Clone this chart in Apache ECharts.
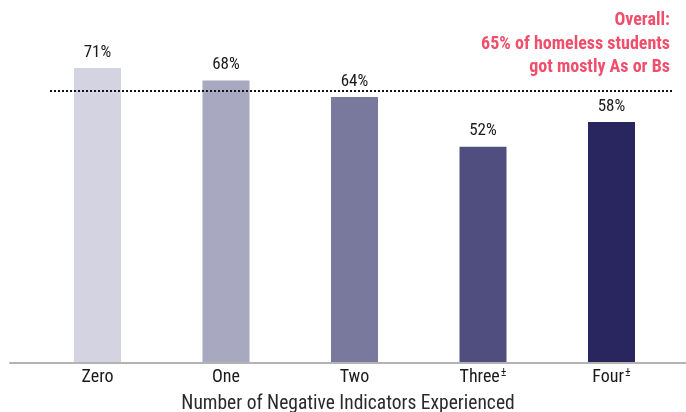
<!DOCTYPE html>
<html>
<head>
<meta charset="utf-8">
<script src="https://cdn.jsdelivr.net/npm/echarts@6/dist/echarts.min.js"></script>
<style>
  html, body { margin: 0; padding: 0; background: #fff; }
  #chart { width: 686px; height: 412px; }
</style>
</head>
<body>
<div id="chart"></div>
<script>
// data
const categories = ["Zero", "One", "Two", "Three", "Four"];
const footnoted = [false, false, false, true, true];
const values = [71, 68, 64, 52, 58];
const barColors = ["#d3d3e1", "#a8a8c1", "#79799d", "#4f4e7f", "#29265f"];
const overall = 65;
const axisTitle = "Number of Negative Indicators Experienced";

const FONT = "'Liberation Sans Narrow', 'Roboto Condensed', Roboto, sans-serif";

const chart = echarts.init(document.getElementById("chart"));

// same vertical scale for every grid
const vTop = -52;
const vBottom = 50;

chart.setOption({
  animation: false,
  grid: [
    // bars
    { left: 33.25, width: 642.5, top: vTop, bottom: vBottom, containLabel: false, outerBoundsMode: "none" },
    // baseline + axis title
    { left: 10, right: 0, top: vTop + 1, bottom: vBottom - 1, containLabel: false, outerBoundsMode: "none" },
    // overall reference line
    { left: 50, right: 14, top: vTop - 2, bottom: vBottom + 2, containLabel: false, outerBoundsMode: "none" },
  ],
  xAxis: [
    {
      gridIndex: 0,
      type: "category",
      data: categories.map((c, i) => (footnoted[i] ? "{a|" + c + "}{s|±}" : "{a|" + c + "}")),
      axisLine: { show: false },
      axisTick: { show: false },
      axisLabel: {
        margin: 5,
        rich: {
          a: { fontFamily: FONT, fontSize: 18, lineHeight: 20, color: "#1a1a1a" },
          s: { fontFamily: FONT, fontSize: 12, lineHeight: 20, verticalAlign: "top", color: "#1a1a1a", padding: [0, 0, 0, 1] },
        },
      },
    },
    {
      gridIndex: 1,
      type: "value",
      min: 0,
      max: 1,
      axisLine: { show: true, lineStyle: { color: "#b3b3b3", width: 2 } },
      axisTick: { show: false },
      axisLabel: { show: false },
      splitLine: { show: false },
      name: axisTitle,
      nameLocation: "middle",
      nameGap: 31,
      nameTextStyle: { fontFamily: FONT, fontSize: 19.5, color: "#2a2a2a" },
    },
    { gridIndex: 2, type: "value", min: 0, max: 1, show: false },
  ],
  yAxis: [0, 1, 2].map((g) => ({
    gridIndex: g,
    type: "value",
    min: 0,
    max: 100,
    show: false,
  })),
  series: [
    {
      type: "bar",
      xAxisIndex: 0,
      yAxisIndex: 0,
      barWidth: 47,
      data: values.map((v, i) => ({ value: v, itemStyle: { color: barColors[i] } })),
      label: {
        show: true,
        position: "top",
        distance: 7,
        formatter: "{c}%",
        fontFamily: FONT,
        fontSize: 17,
        color: "#1a1a1a",
      },
    },
    {
      type: "line",
      xAxisIndex: 2,
      yAxisIndex: 2,
      data: [],
      markLine: {
        symbol: "none",
        silent: true,
        label: { show: false },
        lineStyle: { color: "#111", width: 2, type: [2, 2] },
        data: [{ yAxis: overall }],
      },
    },
  ],
  graphic: [
    {
      type: "text",
      x: 670,
      y: 9,
      style: {
        text: "Overall:\n" + overall + "% of homeless students\ngot mostly As or Bs",
        align: "right",
        verticalAlign: "top",
        fontFamily: FONT,
        fontSize: 18,
        fontWeight: "bold",
        lineHeight: 23.5,
        fill: "#ef4f6b",
      },
    },
  ],
});
</script>
</body>
</html>
